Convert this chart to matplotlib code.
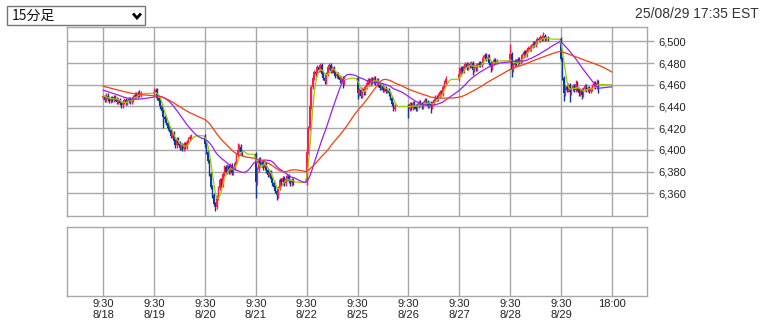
import numpy as np
import matplotlib
matplotlib.use("Agg")
import matplotlib.pyplot as plt
from matplotlib.patches import Rectangle
from matplotlib.lines import Line2D
from matplotlib.ticker import FuncFormatter

# ---- data (15-min closes, 26 bars per session) ----
days = ["8/18", "8/19", "8/20", "8/21", "8/22", "8/25", "8/26", "8/27", "8/28", "8/29"]

# previous session (not drawn, only feeds the moving averages)
warmup = [6466, 6467, 6465, 6464, 6466, 6465, 6463, 6464, 6462, 6463,
          6464, 6462, 6461, 6463, 6462, 6461, 6460, 6462, 6461, 6460,
          6461, 6460, 6459, 6460, 6461, 6460, 6459, 6458, 6460, 6459,
          6458, 6457, 6458, 6459, 6457, 6456, 6457, 6455, 6456, 6455,
          6454, 6455, 6453, 6454, 6452, 6453, 6451, 6452, 6450, 6449]

closes = [
    [6449, 6446, 6450, 6447, 6445, 6448, 6446, 6449, 6447, 6444, 6446, 6443, 6441,
     6444, 6446, 6443, 6445, 6447, 6444, 6446, 6449, 6451, 6450, 6452, 6451, 6452],
    [6453, 6455, 6448, 6445, 6440, 6436, 6430, 6428, 6425, 6420, 6418, 6413, 6415,
     6408, 6404, 6410, 6406, 6402, 6404, 6401, 6405, 6403, 6407, 6410, 6412, 6413],
    [6405, 6398, 6390, 6378, 6366, 6358, 6350, 6347, 6356, 6365, 6372, 6368, 6378,
     6384, 6380, 6385, 6380, 6386, 6379, 6383, 6388, 6395, 6400, 6403, 6398, 6396],
    [6370, 6382, 6391, 6386, 6389, 6383, 6387, 6381, 6377, 6379, 6373, 6369, 6366,
     6362, 6358, 6365, 6372, 6370, 6374, 6369, 6373, 6376, 6371, 6369, 6372, 6370],
    [6398, 6420, 6440, 6458, 6466, 6472, 6470, 6476, 6474, 6478, 6470, 6466, 6463,
     6470, 6476, 6478, 6473, 6475, 6471, 6468, 6470, 6467, 6464, 6466, 6462, 6466],
    [6452, 6455, 6450, 6456, 6453, 6458, 6462, 6464, 6461, 6465, 6463, 6466, 6462,
     6464, 6460, 6457, 6459, 6455, 6457, 6454, 6455, 6452, 6448, 6442, 6438, 6440],
    [6438, 6442, 6439, 6443, 6440, 6438, 6441, 6444, 6442, 6440, 6443, 6446, 6444,
     6441, 6443, 6440, 6443, 6446, 6449, 6447, 6450, 6453, 6452, 6458, 6462, 6465],
    [6470, 6475, 6473, 6477, 6479, 6476, 6479, 6477, 6480, 6474, 6477, 6475, 6478,
     6480, 6478, 6481, 6485, 6487, 6484, 6486, 6480, 6476, 6480, 6483, 6481, 6482],
    [6488, 6474, 6478, 6482, 6479, 6484, 6481, 6483, 6487, 6490, 6488, 6492, 6494,
     6493, 6496, 6498, 6497, 6500, 6502, 6501, 6504, 6502, 6505, 6502, 6503, 6502],
    [6484, 6466, 6452, 6458, 6455, 6460, 6453, 6456, 6459, 6455, 6461, 6456, 6452,
     6455, 6451, 6456, 6459, 6455, 6457, 6454, 6456, 6459, 6461, 6458, 6462, 6460],
]

# long wicks that stand out
wick_high = {(0, 24): 6455, (1, 0): 6457, (2, 22): 6406, (4, 9): 6480, (6, 25): 6468,
             (7, 0): 6476, (7, 17): 6489, (8, 0): 6498, (8, 22): 6509,
             (9, 10): 6464, (9, 24): 6465}
wick_low = {(1, 6): 6420, (2, 7): 6344, (3, 0): 6356, (3, 14): 6354, (4, 24): 6457,
            (5, 0): 6447, (6, 0): 6429, (6, 15): 6434, (7, 9): 6469, (7, 21): 6472,
            (8, 1): 6467, (9, 2): 6445, (9, 6): 6444, (9, 14): 6447, (9, 25): 6452}

y_ticks = [6360, 6380, 6400, 6420, 6440, 6460, 6480, 6500]
ma_windows = [5, 25, 50]
ma_colors = ["#99cc00", "#9a1cff", "#ff3a0a"]

SLOTS = 34      # 9:30 -> 18:00 in 15-min slots
BARS = 26       # slots that carry a candle

UP = "#ff1a4f"
DOWN = "#0a3a9c"
GRID = "#a8a8a8"

# ---- build slot series (closes carried forward through the no-trade slots) ----
bx, bo, bh, bl, bc = [], [], [], [], []
slot_close = list(warmup)
prev = warmup[-1]
for d, day in enumerate(closes):
    for k in range(SLOTS + (1 if d == len(closes) - 1 else 0)):
        if k < BARS:
            c = day[k]
            o = prev
            bx.append(d * SLOTS + k)
            bo.append(o)
            bc.append(c)
            bh.append(wick_high.get((d, k), max(o, c) + 2))
            bl.append(wick_low.get((d, k), min(o, c) - 2))
            prev = c
        slot_close.append(prev)

slot_close = np.array(slot_close, dtype=float)
n_warm = len(warmup)
slot_x = np.arange(len(slot_close) - n_warm)

bx = np.array(bx); bo = np.array(bo, float); bc = np.array(bc, float)
bh = np.array(bh, float); bl = np.array(bl, float)
up = bc >= bo
colors = np.where(up, UP, DOWN)

# ---- figure ----
fig = plt.figure(figsize=(7.6, 3.2), dpi=100)
W, H = 760, 320
L, R = 67.3, 647.0
ax = fig.add_axes([L / W, 1 - 216 / H, (R - L) / W, (216 - 26.7) / H])
ax2 = fig.add_axes([L / W, 1 - 296.3 / H, (R - L) / W, (296.3 - 227.3) / H])

xt = [d * SLOTS for d in range(len(days))] + [len(days) * SLOTS]
xl = ["9:30\n" + d for d in days] + ["18:00"]

for a in (ax, ax2):
    a.set_xlim(-24, 363.5)
    a.set_xticks(xt)
    for s in a.spines.values():
        s.set_color(GRID)
        s.set_linewidth(1.0)
    a.grid(True, axis="x", color=GRID, linewidth=1.0)
    a.set_axisbelow(True)

ax.set_ylim(6339, 6513.5)
ax.set_yticks(y_ticks)
ax.yaxis.tick_right()
ax.yaxis.set_major_formatter(FuncFormatter(lambda v, p: f"{int(v):,}"))
ax.grid(True, axis="y", color=GRID, linewidth=1.0)
ax.tick_params(axis="y", length=5, width=1, color=GRID, pad=3,
               labelsize=8, labelcolor="#222222")
ax.tick_params(axis="x", length=0, labelbottom=False)
for t in ax.get_yticklabels():
    t.set_family("Liberation Sans")

ax2.set_yticks([])
ax2.set_xticklabels(xl)
ax2.tick_params(axis="x", length=0, pad=2, labelsize=8, labelcolor="#222222")
for t in ax2.get_xticklabels():
    t.set_family(["Liberation Sans Narrow", "Liberation Sans"])
    t.set_linespacing(1.1)

# candles
ax.vlines(bx, bl, bh, colors=colors, linewidth=1.0, zorder=3)
body = np.where(np.abs(bc - bo) < 0.8, 0.8, bc - bo)
ax.bar(bx, body, bottom=bo, width=1.05, color=colors, linewidth=0, zorder=3)

# moving averages
for w, col in zip(ma_windows, ma_colors):
    ma = np.convolve(slot_close, np.ones(w) / w, mode="full")[:len(slot_close)]
    ax.plot(slot_x, ma[n_warm:], color=col, linewidth=0.9, zorder=4)

# header: dropdown box and timestamp
fig.add_artist(Rectangle((7 / W, 1 - 25.3 / H), (145.3 - 7) / W, 19.6 / H,
                         transform=fig.transFigure, facecolor="white",
                         edgecolor="#767676", linewidth=1.0))
fig.text(12 / W, 1 - 16 / H, "15分足", family=["Noto Sans CJK JP", "DejaVu Sans"],
         fontsize=10, va="center", ha="left", color="#111111")
fig.add_artist(Line2D([133 / W, 137 / W, 141 / W],
                      [1 - 13.5 / H, 1 - 18 / H, 1 - 13.5 / H],
                      transform=fig.transFigure, color="black", linewidth=2.0,
                      solid_capstyle="butt", solid_joinstyle="miter"))
fig.text(759 / W, 1 - 14 / H, "25/08/29 17:35 EST", family="Liberation Sans",
         fontsize=10, va="center", ha="right", color="#333333")

fig.savefig("out.png", dpi=100)
